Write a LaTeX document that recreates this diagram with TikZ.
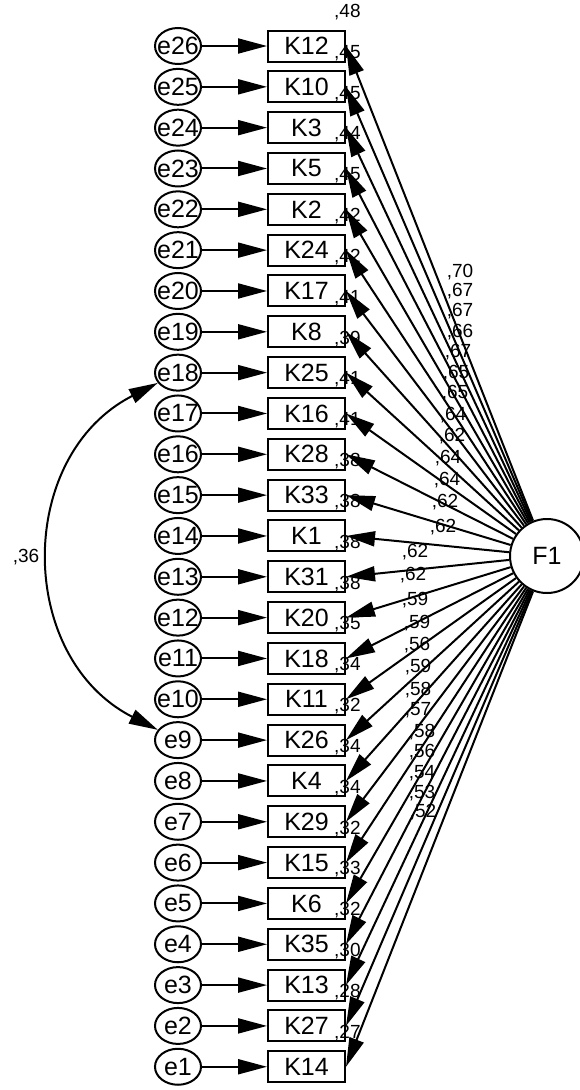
\documentclass[tikz,border=0pt]{standalone}
\usepackage{fontspec}
\setmainfont{Liberation Sans}
\usetikzlibrary{arrows.meta,shapes.geometric}
\begin{document}
\begin{tikzpicture}[x=1pt,y=1pt,
  obs/.style={draw,line width=2pt,minimum width=77pt,minimum height=31pt,inner sep=0pt,font=\fontsize{25}{25}\selectfont},
  err/.style={draw,ellipse,line width=2pt,minimum width=46pt,minimum height=36pt,inner sep=0pt,font=\fontsize{25}{25}\selectfont},
  lat/.style={draw,circle,line width=2pt,minimum size=74pt,inner sep=0pt,font=\fontsize{25}{25}\selectfont},
  num/.style={inner sep=0pt,font=\fontsize{19}{19}\selectfont},
  arr/.style={line width=2pt,-{Triangle[length=29pt,width=15pt]}},
  dblarr/.style={line width=2pt,{Triangle[length=29pt,width=15pt]}-{Triangle[length=29pt,width=15pt]}}
]
\useasboundingbox (0,0) rectangle (579,-1090);
\node[lat] (F1) at (547,-556) {F1};
\foreach \k/\e/\r/\l/\lx/\ly [count=\i from 0] in {
  K12/e26/48/70/460/272, K10/e25/45/67/460/291, K3/e24/45/67/460/311,
  K5/e23/44/66/460/332, K2/e22/45/67/458/352, K24/e21/42/65/456/373,
  K17/e20/42/65/455/393, K8/e19/41/64/453/415, K25/e18/39/62/452/436,
  K16/e17/41/64/448/458, K28/e16/41/64/447/480, K33/e15/38/62/445/502,
  K1/e14/38/62/443/527, K31/e13/38/62/415/552, K20/e12/38/62/413/575,
  K18/e11/35/59/415/600, K11/e10/34/59/417/623, K26/e9/32/56/417/645,
  K4/e8/34/59/418/667, K29/e7/34/58/418/690, K15/e6/32/57/418/710,
  K6/e5/33/58/422/732, K35/e4/32/56/422/752, K13/e3/30/54/422/773,
  K27/e2/28/53/422/793, K14/e1/27/52/423/812}{
  \pgfmathsetmacro\yy{-(46+40.83*\i)}
  \node[obs] (\k) at (306.5,\yy) {\k};
  \node[err] (\e) at (178,\yy) {\makebox[0pt]{\e}};
  \draw[arr] (\e) -- (\k);
  \draw[arr] (F1) -- (\k.east);
  \node[num,anchor=base west] (r\k) at ([shift={(-12,12)}]\k.north east) {,\r};
  \node[num] (l\k) at (\lx,-\ly) {,\l};
}
\draw[dblarr] (e18) to[out=207,in=153,looseness=1.18] (e9);
\node[num] (cov) at (26,-557) {,36};
\end{tikzpicture}
\end{document}
